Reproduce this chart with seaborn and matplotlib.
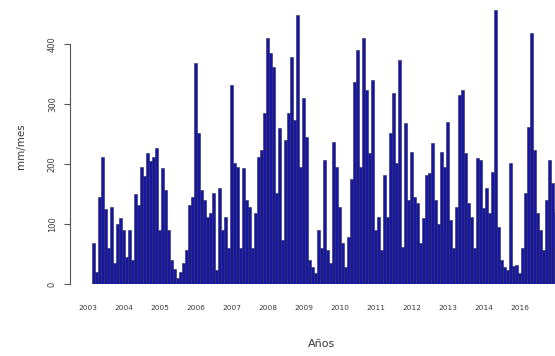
import matplotlib
matplotlib.use("Agg")
import matplotlib.pyplot as plt
import seaborn as sns
import pandas as pd

# Monthly precipitation (mm/mes), January 2003 onwards
precip = [
    68, 20, 145, 212, 125, 60, 128, 35, 100, 110, 90, 45,          # 2003
    90, 40, 150, 132, 195, 180, 218, 205, 212, 227, 90, 193,      # 2004
    157, 90, 40, 25, 10, 20, 35, 57, 132, 145, 368, 252,          # 2005
    157, 140, 112, 118, 152, 23, 160, 90, 112, 60, 332, 202,      # 2006
    195, 60, 193, 140, 128, 60, 118, 212, 223, 285, 410, 385,     # 2007
    362, 152, 260, 73, 240, 285, 378, 273, 448, 195, 310, 245,    # 2008
    40, 28, 18, 90, 60, 207, 57, 35, 237, 195, 128, 68,           # 2009
    28, 78, 175, 337, 390, 195, 410, 323, 218, 340, 90, 112,      # 2010
    57, 182, 112, 252, 318, 202, 373, 62, 268, 140, 220, 145,     # 2011
    135, 68, 110, 182, 185, 235, 140, 100, 220, 195, 270, 107,    # 2012
    60, 128, 315, 323, 218, 135, 112, 60, 210, 207, 127, 160,     # 2013
    118, 187, 457, 95, 40, 28, 23, 202, 30, 32, 18, 60,           # 2014
    152, 262, 418, 223, 118, 90, 57, 140, 207, 168, 120,          # 2015
]

year_labels = ["2003", "2004", "2005", "2006", "2007", "2008", "2009",
               "2010", "2011", "2012", "2013", "2014", "2016"]
year_start_month = [0, 12, 24, 36, 48, 60, 72, 84, 96, 108, 120, 132, 144]

df = pd.DataFrame({"mes": list(range(len(precip))), "mm": precip})

sns.set_style("white")
plt.rcParams["font.family"] = ["DejaVu Sans"]

fig = plt.figure(figsize=(5.55, 3.56), dpi=100)
ax = fig.add_axes([87.5 / 555, (356 - 284) / 356, (555 - 87.5) / 555, (284 - 8) / 356])

sns.barplot(data=df, x="mes", y="mm", color="#1616a0", saturation=1,
            width=0.72, edgecolor="#2a2a60", linewidth=0.4, ax=ax)

ax.set_xlim(-2, (555 - 93.5) / 3)
ax.set_ylim(0, 460)

text_color = "#3a3a3a"

# R-style y axis: detached line spanning 0..400, rotated tick labels
for side in ["top", "right", "bottom"]:
    ax.spines[side].set_visible(False)
ax.spines["left"].set_position(("outward", 12.6))
ax.spines["left"].set_bounds(0, 400)
ax.spines["left"].set_color("#555555")
ax.spines["left"].set_linewidth(0.8)
ax.set_yticks([0, 100, 200, 300, 400])
ax.set_yticklabels(["0", "100", "200", "300", "400"], rotation=90, va="center",
                   fontsize=6, color=text_color)
ax.tick_params(axis="y", left=True, length=4.5, width=0.8, color="#555555",
               pad=5, direction="out")

ax.set_xticks([m - 1.8 for m in year_start_month])
ax.set_xticklabels(year_labels, fontsize=5.3, color=text_color)
ax.tick_params(axis="x", bottom=False, length=0, pad=15)

ax.set_xlabel("Años", fontsize=8, color=text_color, labelpad=20)
ax.set_ylabel("mm/mes", fontsize=7.5, color=text_color, labelpad=16)
ax.grid(False)

fig.savefig("out.png", dpi=100)
